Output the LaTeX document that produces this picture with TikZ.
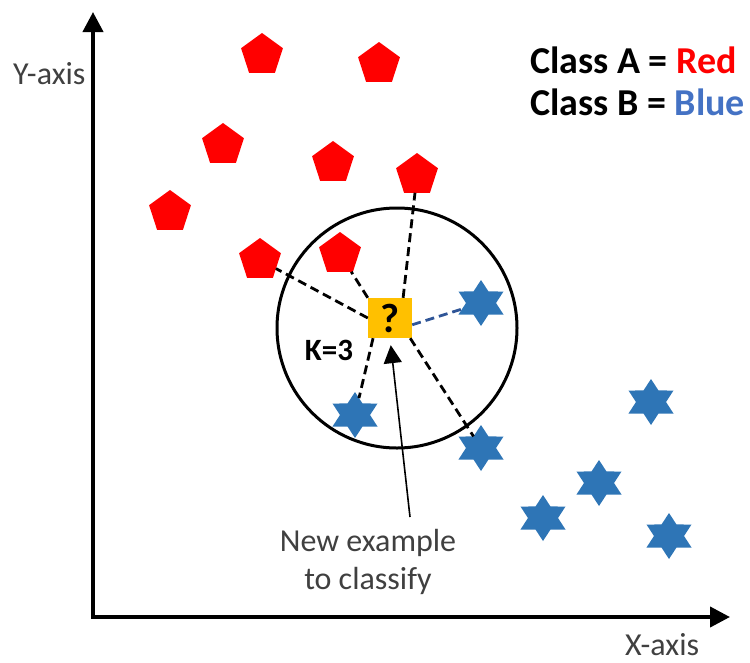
\documentclass[tikz,border=0pt]{standalone}
\usepackage{fontspec}
\setmainfont{Carlito}
\usetikzlibrary{shapes.geometric,arrows.meta,calc}
\definecolor{ptred}{HTML}{FF0000}
\definecolor{ptblue}{HTML}{2E75B6}
\definecolor{legblue}{HTML}{4472C4}
\definecolor{qgold}{HTML}{FFC000}
\definecolor{labelgray}{HTML}{404040}
\definecolor{nearblue}{HTML}{2F5597}

\begin{document}
\begin{tikzpicture}[x=1pt,y=-1pt,
  classA/.style={regular polygon, regular polygon sides=5, minimum size=44pt,
                 inner sep=0pt, outer sep=0pt, fill=ptred},
  classB/.style={star, star points=6, star point ratio=1.73, minimum size=46pt,
                 inner sep=0pt, outer sep=0pt, fill=ptblue, xscale=1.13},
  link/.style={line width=2.8pt, dash pattern=on 9pt off 5pt},
  axistip/.tip={Triangle[width=20pt,length=20pt]},
  lbl/.style={text=labelgray, inner sep=0pt, font=\fontsize{32}{38}\selectfont},
  legend/.style={anchor=base west, inner sep=0pt, font=\bfseries\fontsize{38}{44}\selectfont},
]
\useasboundingbox (0,0) rectangle (750,662);

% axes
\coordinate (ytop) at (93,12);
\coordinate (origin) at (93,617);
\coordinate (xend) at (730,617);
\draw[line width=4pt, axistip-axistip] (ytop) -- (origin) -- (xend);
\node[lbl, anchor=base west] (ylabel) at (13,84) {Y-axis};
\node[lbl, anchor=base west] (xlabel) at (625,655) {X-axis};

% legend
\node[legend] (legA) at (530,73) {Class A = \textcolor{ptred}{Red}};
\node[legend] (legB) at (530,115) {Class B = \textcolor{legblue}{Blue}};

% neighbourhood circle
\node[circle, draw, line width=3pt, minimum size=240pt, inner sep=0pt] (kring) at (397,328) {};

% class A points
\node[classA] (p1) at (262,55) {};
\node[classA] (p2) at (379,64) {};
\node[classA] (p3) at (223,145) {};
\node[classA] (p4) at (333,163) {};
\node[classA] (p5) at (417,175) {};
\node[classA] (p6) at (170,212) {};
\node[classA] (p7) at (260,260) {};
\node[classA] (p8) at (340,254) {};

% class B points
\node[classB] (s1) at (481,303) {};
\node[classB] (s2) at (355,415) {};
\node[classB] (s3) at (481,448) {};
\node[classB] (s4) at (651,402) {};
\node[classB] (s5) at (599,483) {};
\node[classB] (s6) at (543,518) {};
\node[classB] (s7) at (669,536) {};

% query point
\node[fill=qgold, minimum width=44pt, minimum height=40pt, inner sep=0pt,
      font=\bfseries\fontsize{41}{44}\selectfont] (q) at (390,318) {?};
\node[font=\bfseries\fontsize{31}{36}\selectfont] (k) at (329,350) {K=3};

% distances to the neighbours
\draw[link] (q.west) -- (p7);
\draw[link] (q.north west) -- (p8);
\draw[link] (q.57) -- (p5);
\draw[link, nearblue] (q.-17) -- (s1);
\draw[link] (q.-130) -- (s2);
\draw[link] (q.-45) -- (s3);

% caption with pointer
\node[lbl, align=center, anchor=north] (caption) at (368,529) {New example\\to classify};
\coordinate (tail) at (410,517);
\draw[line width=1.6pt, -{Triangle[width=18pt,length=18pt]}, shorten >=7pt] (tail) -- (q.south);
\end{tikzpicture}
\end{document}
